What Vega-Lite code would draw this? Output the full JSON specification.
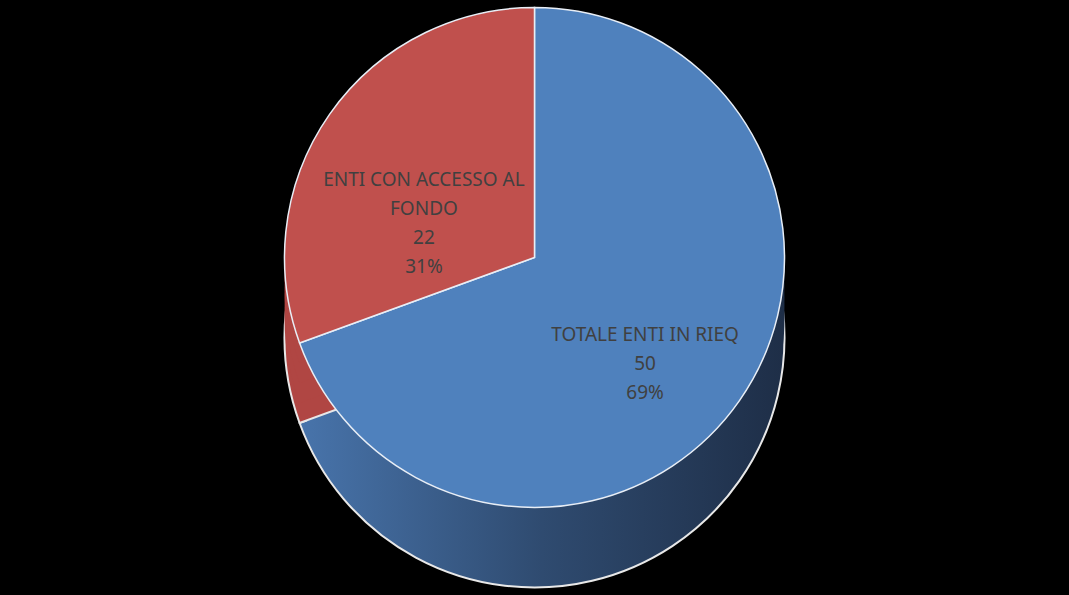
{
  "$schema": "https://vega.github.io/schema/vega-lite/v6.json",
  "width": 1069,
  "height": 595,
  "autosize": {"type": "fit", "contains": "padding"},
  "padding": 0,
  "background": "black",
  "config": {"view": {"stroke": null}},
  "data": {
    "values": [
      {"category": "TOTALE ENTI IN RIEQ", "value": 50, "label": ["TOTALE ENTI IN RIEQ", "50", "69%"]},
      {"category": "ENTI CON ACCESSO AL FONDO", "value": 22, "label": ["ENTI CON ACCESSO AL", "FONDO", "22", "31%"]}
    ]
  },
  "encoding": {
    "theta": {"field": "value", "type": "quantitative", "stack": true},
    "order": {"field": "value", "type": "quantitative", "sort": "descending"}
  },
  "layer": [
    {
      "mark": {"type": "arc", "radius": 250, "yOffset": 40, "stroke": "#e8e8e8", "strokeWidth": 2, "color": {"gradient": "linear", "x1": 0, "y1": 0, "x2": 1, "y2": 0, "stops": [{"offset": 0, "color": "#4874ab"}, {"offset": 0.5, "color": "#2f4b70"}, {"offset": 1, "color": "#1e2e47"}]}},
      "encoding": {"opacity": {"condition": {"test": "datum.category === 'ENTI CON ACCESSO AL FONDO'", "value": 0}, "value": 1}}
    },
    {
      "mark": {"type": "arc", "radius": 250, "yOffset": 20, "color": {"gradient": "linear", "x1": 0, "y1": 0, "x2": 1, "y2": 0, "stops": [{"offset": 0, "color": "#4874ab"}, {"offset": 0.5, "color": "#2f4b70"}, {"offset": 1, "color": "#1e2e47"}]}},
      "encoding": {"opacity": {"condition": {"test": "datum.category === 'ENTI CON ACCESSO AL FONDO'", "value": 0}, "value": 1}}
    },
    {
      "mark": {"type": "arc", "radius": 250, "yOffset": 0, "color": {"gradient": "linear", "x1": 0, "y1": 0, "x2": 1, "y2": 0, "stops": [{"offset": 0, "color": "#4874ab"}, {"offset": 0.5, "color": "#2f4b70"}, {"offset": 1, "color": "#1e2e47"}]}},
      "encoding": {"opacity": {"condition": {"test": "datum.category === 'ENTI CON ACCESSO AL FONDO'", "value": 0}, "value": 1}}
    },
    {
      "mark": {"type": "arc", "radius": 250, "yOffset": -20, "color": {"gradient": "linear", "x1": 0, "y1": 0, "x2": 1, "y2": 0, "stops": [{"offset": 0, "color": "#4874ab"}, {"offset": 0.5, "color": "#2f4b70"}, {"offset": 1, "color": "#1e2e47"}]}},
      "encoding": {"opacity": {"condition": {"test": "datum.category === 'ENTI CON ACCESSO AL FONDO'", "value": 0}, "value": 1}}
    },
    {
      "mark": {"type": "arc", "radius": 250, "yOffset": 40, "stroke": "#e8e8e8", "strokeWidth": 2, "color": "#b04643"},
      "encoding": {"opacity": {"condition": {"test": "datum.category === 'ENTI CON ACCESSO AL FONDO'", "value": 1}, "value": 0}}
    },
    {
      "mark": {"type": "arc", "radius": 250, "yOffset": 20, "color": "#b04643"},
      "encoding": {"opacity": {"condition": {"test": "datum.category === 'ENTI CON ACCESSO AL FONDO'", "value": 1}, "value": 0}}
    },
    {
      "mark": {"type": "arc", "radius": 250, "yOffset": 0, "color": "#b04643"},
      "encoding": {"opacity": {"condition": {"test": "datum.category === 'ENTI CON ACCESSO AL FONDO'", "value": 1}, "value": 0}}
    },
    {
      "mark": {"type": "arc", "radius": 250, "yOffset": -20, "color": "#b04643"},
      "encoding": {"opacity": {"condition": {"test": "datum.category === 'ENTI CON ACCESSO AL FONDO'", "value": 1}, "value": 0}}
    },
    {
      "mark": {"type": "arc", "radius": 250, "yOffset": -40, "stroke": "#e8eef6", "strokeWidth": 1.5},
      "encoding": {
        "color": {
          "field": "category",
          "type": "nominal",
          "scale": {"domain": ["TOTALE ENTI IN RIEQ", "ENTI CON ACCESSO AL FONDO"], "range": ["#4f81bd", "#c0504d"]},
          "legend": null
        }
      }
    },
    {
      "mark": {"type": "text", "radius": 135, "yOffset": -40, "font": "Noto Sans", "fontSize": 19, "lineHeight": 29, "color": "#404040", "align": "center", "baseline": "middle"},
      "encoding": {
        "text": {"field": "label"}
      }
    }
  ]
}
